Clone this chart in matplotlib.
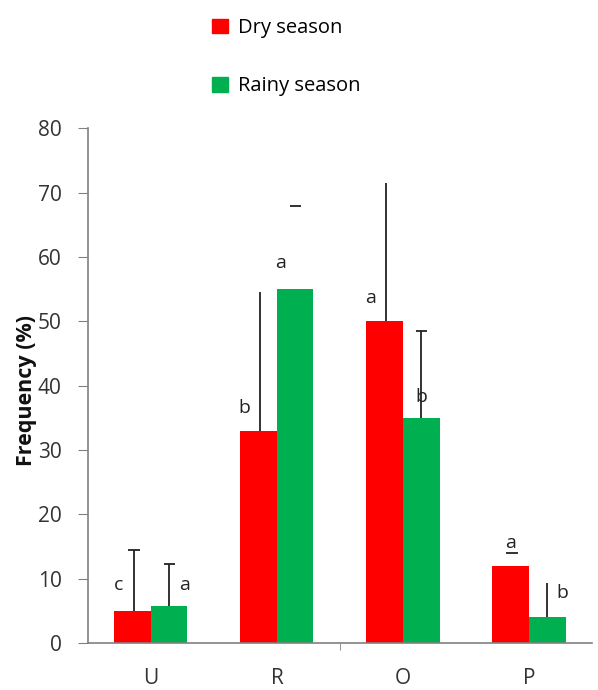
import numpy as np
import matplotlib
matplotlib.use("Agg")
import matplotlib.pyplot as plt
from matplotlib.patches import Patch

# data
categories = ["U", "R", "O", "P"]
dry = [5, 33, 50, 12]
rainy = [5.8, 55, 35, 4]
dry_err = [9.5, 21.5, 21.5, 2]
rainy_err = [6.5, 13, 13.5, 5.3]
# which parts of each error bar show up in the figure
dry_line = [True, True, True, False]
dry_cap = [True, False, False, True]
rainy_line = [True, False, True, True]
rainy_cap = [True, True, True, False]
dry_letters = ["c", "b", "a", "a"]
rainy_letters = ["a", "a", "b", "b"]

RED = "#ff0000"
GREEN = "#00b050"

plt.rcParams['font.family'] = ['Open Sans', 'DejaVu Sans']

fig = plt.figure(figsize=(5.98, 6.9), dpi=100)
ax = fig.add_axes([0.147, 0.068, 0.843, 0.746])

x = np.arange(len(categories))
w = 0.29
ax.bar(x - w / 2, dry, w, color=RED, zorder=2)
ax.bar(x + w / 2, rainy, w, color=GREEN, zorder=2)

def draw_err(xs, vals, errs, lines, caps):
    for xi, v, e, ln, cp in zip(xs, vals, errs, lines, caps):
        top = v + e
        if ln:
            ax.vlines(xi, v, top, color="#222222", lw=1.3, zorder=3)
        if cp:
            ax.hlines(top, xi - 0.045, xi + 0.045, color="#222222", lw=1.3, zorder=3)

draw_err(x - w / 2 + 0.01, dry, dry_err, dry_line, dry_cap)
draw_err(x + w / 2, rainy, rainy_err, rainy_line, rainy_cap)

# significance letters
dry_lab_dx = [-0.11, -0.11, -0.11, 0.0]
dry_lab_y = [9, 36.5, 53.7, 15.5]
rainy_lab_dx = [0.12, -0.12, 0.0, 0.12]
rainy_lab_y = [9, 59, 38.3, 7.8]
for i in range(len(categories)):
    ax.text(x[i] - w / 2 + dry_lab_dx[i], dry_lab_y[i], dry_letters[i],
            ha="center", va="center", fontsize=14, color="#222222")
    ax.text(x[i] + w / 2 + rainy_lab_dx[i], rainy_lab_y[i], rainy_letters[i],
            ha="center", va="center", fontsize=14, color="#222222")

ax.set_xlim(-0.5, 3.5)
ax.set_ylim(0, 80)
ax.set_yticks(np.arange(0, 81, 10))
ax.set_xticks(x)
ax.set_xticklabels(categories)
ax.set_xticks([1.5], minor=True)
ax.tick_params(axis="x", which="major", length=0, pad=18, labelsize=15, labelcolor="#333333")
ax.tick_params(axis="x", which="minor", length=5, color="#808080")
ax.tick_params(axis="y", length=7, color="#808080", labelsize=15, labelcolor="#333333", pad=12)

for s in ["top", "right"]:
    ax.spines[s].set_visible(False)
for s in ["left", "bottom"]:
    ax.spines[s].set_color("#808080")
    ax.spines[s].set_linewidth(1.2)

ax.set_ylabel("Frequency (%)", fontsize=15.5, fontweight="bold", color="#111111")
ax.yaxis.set_label_coords(-0.1, 0.49)

handles = [Patch(color=RED, label="Dry season"), Patch(color=GREEN, label="Rainy season")]
fig.legend(handles=handles, loc="upper left", bbox_to_anchor=(0.325, 1.0),
           frameon=False, fontsize=14.5, labelspacing=1.9, handlelength=0.75,
           handleheight=0.75, handletextpad=0.5)

fig.savefig("out.png", dpi=100)
